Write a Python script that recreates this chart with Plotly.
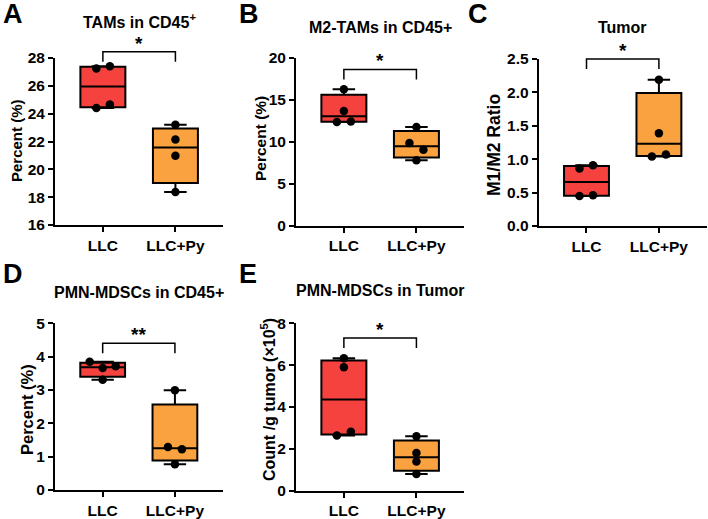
import numpy as np
import plotly.graph_objects as go

W, H = 708, 519

# ---------------- data ----------------
groups = ["LLC", "LLC+Py"]

a_llc = [27.4, 27.25, 24.65, 24.4]
a_py = [23.2, 22.15, 20.97, 18.37]
b_llc = [16.25, 13.65, 12.35, 12.4]
b_py = [11.75, 9.85, 9.05, 7.8]
c_llc = [0.86, 0.91, 0.45, 0.46]
c_py = [2.19, 1.39, 1.04, 1.07]
d_llc = [3.85, 3.66, 3.71, 3.31]
d_py = [2.99, 1.29, 1.22, 0.77]
e_llc = [6.33, 5.9, 2.82, 2.64]
e_py = [2.6, 1.8, 1.39, 0.8]

letters = ["A", "B", "C", "D", "E"]
titles = ["TAMs in CD45<sup>+</sup>", "M2-TAMs in CD45+", "Tumor",
          "PMN-MDSCs in CD45+", "PMN-MDSCs in Tumor"]
ytitles = ["Percent (%)", "Percent (%)", "M1/M2 Ratio", "Percent (%)",
           "Count /g tumor (×10<sup>5</sup>)"]
yticks = [[16, 18, 20, 22, 24, 26, 28], [0, 5, 10, 15, 20],
          [0, 0.5, 1.0, 1.5, 2.0, 2.5], [0, 1, 2, 3, 4, 5], [0, 2, 4, 6, 8]]
signif = ["*", "*", "*", "**", "*"]
series = [(a_llc, a_py), (b_llc, b_py), (c_llc, c_py), (d_llc, d_py), (e_llc, e_py)]

# ---------------- style / layout ----------------
COLORS = ["#F5423F", "#F9A23F"]
FONT = "Liberation Sans, Arial, sans-serif"
XR = [-0.66, 1.66]
BOXW = 0.62

# pixel boxes of plot areas: (x0, x1, ytop, ybottom)
panels = [
    dict(box=(55, 223.3, 58, 225), yr=[16, 28], fmt="", brk=28.45,
         jit=([7, -6.5, 7, -6.5], [0, 0, 0, 0]),
         letter=(1, 14), title=(21,), ytit=(16, 141, 15), tickfs=15.5),
    dict(box=(296, 464.3, 57.7, 225.7), yr=[0, 20], fmt="", brk=18.6,
         jit=([0, 0, -7, 7], [0, -7, 7, 0]),
         letter=(237, 14), title=(27,), ytit=(260, 139, 15.5), tickfs=15.5),
    dict(box=(538.7, 706.7, 59, 226), yr=[0, 2.5], fmt=".1f", brk=2.5,
         jit=([-7, 6.5, -7, 6.5], [0, 0, -7, 7]),
         letter=(466, 14), title=(27,), ytit=(494, 145, 17.5), tickfs=15.5),
    dict(box=(55, 222.6, 323.3, 490), yr=[0, 5], fmt="", brk=4.4,
         jit=([-13, 0, 13, 0], [0, -7, 7, 0]),
         letter=(1, 274), title=(292,), ytit=(27, 410, 16.5), tickfs=15.5),
    dict(box=(296, 464.3, 323.3, 490.7), yr=[0, 8], fmt="", brk=7.3,
         jit=([0, 0, 7, -7], [0, 0, 0, 0]),
         letter=(237, 274), title=(290,), ytit=(268, 400, 16), tickfs=15.5),
]


def px(xp):
    return xp / W


def py(yp):
    return 1 - yp / H


fig = go.Figure()
shapes = []
annotations = []
layout = {}

for i, p in enumerate(panels):
    k = "" if i == 0 else str(i + 1)
    x0, x1, yt, yb = p["box"]
    xdom = [px(x0), px(x1)]
    ydom = [py(yb), py(yt)]
    unit = (x1 - x0) / (XR[1] - XR[0])  # px per x unit
    ylo, yhi = p["yr"]

    def dx(v):
        return x0 + (v - XR[0]) * unit

    def dy(v):
        return yb - (v - ylo) / (yhi - ylo) * (yb - yt)

    for g, vals in enumerate(series[i]):
        arr = np.array(vals, dtype=float)
        q1, med, q3 = np.percentile(arr, [25, 50, 75], method="weibull")
        fig.add_trace(go.Box(
            x=[g], q1=[q1], median=[med], q3=[q3],
            lowerfence=[arr.min()], upperfence=[arr.max()],
            fillcolor=COLORS[g], line=dict(color="black", width=2),
            whiskerwidth=0.5, width=BOXW, boxpoints=False,
            xaxis="x" + k, yaxis="y" + k, showlegend=False, hoverinfo="skip"))
        offs = np.array(p["jit"][g]) / unit
        fig.add_trace(go.Scatter(
            x=g + offs, y=arr, mode="markers",
            marker=dict(color="black", size=8.5, line=dict(width=0)),
            cliponaxis=False, xaxis="x" + k, yaxis="y" + k,
            showlegend=False, hoverinfo="skip"))

    layout["xaxis" + k] = dict(
        domain=xdom, range=XR, anchor="y" + k, showline=True, linecolor="black",
        linewidth=2, ticks="outside", ticklen=5, tickwidth=2, tickcolor="black",
        tickvals=[0, 1], ticktext=groups, showgrid=False, zeroline=False,
        automargin=False,
        tickfont=dict(family=FONT, size=p["tickfs"], color="black", weight="bold"),
        fixedrange=True)
    layout["yaxis" + k] = dict(
        domain=ydom, range=p["yr"], anchor="x" + k, showline=True, linecolor="black",
        linewidth=2, ticks="outside", ticklen=5, tickwidth=2, tickcolor="black",
        tickvals=yticks[i], tickformat=p["fmt"], showgrid=False, zeroline=False,
        automargin=False,
        tickfont=dict(family=FONT, size=p["tickfs"], color="black", weight="bold"),
        fixedrange=True)

    # significance bracket
    bx0, bx1 = dx(0), dx(1)
    by = dy(p["brk"])
    path = "M {a},{b} L {a},{c} L {d},{c} L {d},{b}".format(
        a=px(bx0), b=py(by + 10), c=py(by), d=px(bx1))
    shapes.append(dict(type="path", path=path, xref="paper", yref="paper",
                       line=dict(color="black", width=1.5)))
    annotations.append(dict(text="<b>%s</b>" % signif[i], x=px((bx0 + bx1) / 2),
                            y=py(by), xref="paper", yref="paper", showarrow=False,
                            xanchor="center", yanchor="bottom", yshift=-4,
                            font=dict(family=FONT, size=19, color="black")))
    # panel title
    annotations.append(dict(text="<b>%s</b>" % titles[i], x=px((x0 + x1) / 2),
                            y=py(p["title"][0]), xref="paper", yref="paper",
                            showarrow=False, xanchor="center", yanchor="middle",
                            font=dict(family=FONT, size=16, color="black")))
    # panel letter
    annotations.append(dict(text="<b>%s</b>" % letters[i], x=px(p["letter"][0]),
                            y=py(p["letter"][1]), xref="paper", yref="paper",
                            showarrow=False, xanchor="left", yanchor="middle",
                            font=dict(family=FONT, size=27, color="black")))
    # y-axis title
    tx, ty, tfs = p["ytit"]
    annotations.append(dict(text="<b>%s</b>" % ytitles[i], x=px(tx), y=py(ty),
                            xref="paper", yref="paper", showarrow=False,
                            textangle=-90, xanchor="center", yanchor="middle",
                            font=dict(family=FONT, size=tfs, color="black")))

fig.update_layout(
    template="none",
    width=W, height=H, margin=dict(l=0, r=0, t=0, b=0, pad=0),
    paper_bgcolor="white", plot_bgcolor="white",
    shapes=shapes, annotations=annotations, **layout)

fig.write_html("out.html")
